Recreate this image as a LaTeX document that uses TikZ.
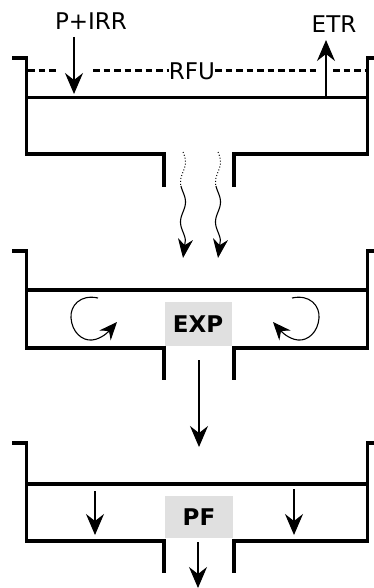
\documentclass[tikz,border=0pt]{standalone}
\usepackage{fontspec}
\setmainfont{DejaVu Sans}
\usetikzlibrary{arrows.meta}
\definecolor{boxgray}{RGB}{224,224,224}
\tikzset{
  wall/.style={line width=3.5pt, line cap=butt, line join=miter},
  flow/.style={line width=1.4pt, -{Stealth[length=21pt,width=18pt,inset=7pt]}},
  rfuline/.style={line width=3pt, dash pattern=on 6.5pt off 4pt},
  lbl/.style={font=\fontsize{23}{26}\selectfont, inner sep=0pt},
  zonelbl/.style={font=\fontsize{23}{26}\selectfont\bfseries, fill=boxgray, inner sep=0pt, minimum width=67pt},
}
\begin{document}
\begin{tikzpicture}[x=1pt,y=-1pt]
\useasboundingbox (0,0) rectangle (374,588);

% ---------- tank 1 ----------
\draw[wall] (12,58) -- (26.5,58) -- (26.5,154) -- (164,154) -- (164,187);
\draw[wall] (374,58) -- (367.5,58) -- (367.5,154) -- (234,154) -- (234,187);
\draw[wall] (26.5,97.5) -- (367.5,97.5);

\node[lbl] (rfu) at (192,71) {RFU};
\draw[rfuline] (28,71) -- (57,71);
\draw[rfuline] (93,71) -- (rfu.west);
\draw[rfuline] (rfu.east) -- (316,71);
\draw[rfuline] (333,71) -- (366,71);

\node[lbl] (pirr) at (91,21.5) {P+IRR};
\node[lbl] (etr) at (334,24.5) {ETR};
\coordinate (pirrEnd) at (74,94);
\coordinate (etrStart) at (326,97);
\draw[flow] (74,37) -- (pirrEnd);
\draw[flow] (etrStart) -- (326,40);

% wavy seepage
\foreach \xc/\nm in {183/a,218/b}{
  \draw[line width=1pt, dotted] plot[domain=152:186, samples=30, smooth] ({\xc+2.5*sin((\x-152)*9)}, \x);
  \draw[line width=1.1pt] plot[domain=186:240, samples=40, smooth] ({\xc+2.5*sin((\x-152)*9)}, \x);
  \coordinate (w\nm) at ({\xc+2.5*sin((240-152)*9)}, 240);
  \draw[line width=1.1pt, -{Stealth[length=19pt,width=15pt,inset=6pt]}] (w\nm) -- (\xc,258);
}

% ---------- tank 2 ----------
\draw[wall] (12,251) -- (26.5,251) -- (26.5,348) -- (164,348) -- (164,380);
\draw[wall] (374,251) -- (367.5,251) -- (367.5,348) -- (234,348) -- (234,380);
\draw[wall] (26.5,290) -- (367.5,290);
\node[zonelbl, minimum height=44pt] (exp) at (198,324) {EXP};

\draw[line width=1.1pt, -{Stealth[length=18pt,width=15pt,inset=6pt]}]
  (98,298) .. controls (80,294) and (70,306) .. (71,318)
  .. controls (72,332) and (82,341) .. (92,340)
  .. controls (102,339) and (109,331) .. (117,322);
\draw[line width=1.1pt, -{Stealth[length=18pt,width=15pt,inset=6pt]}]
  (292,298) .. controls (310,294) and (320,306) .. (319,318)
  .. controls (318,332) and (308,341) .. (298,340)
  .. controls (288,339) and (281,331) .. (273,322);

\draw[flow] (199,360) -- (199,447);

% ---------- tank 3 ----------
\draw[wall] (12,443) -- (26.5,443) -- (26.5,541) -- (164,541) -- (164,573);
\draw[wall] (374,443) -- (367.5,443) -- (367.5,541) -- (234,541) -- (234,573);
\draw[wall] (26.5,484) -- (367.5,484);
\node[zonelbl, minimum height=42pt, minimum width=68pt] (pf) at (199,517) {PF};

\draw[flow] (95,491) -- (95,535);
\draw[flow] (294,489) -- (294,535);
\draw[flow] (198,542) -- (198,588);
\end{tikzpicture}
\end{document}
